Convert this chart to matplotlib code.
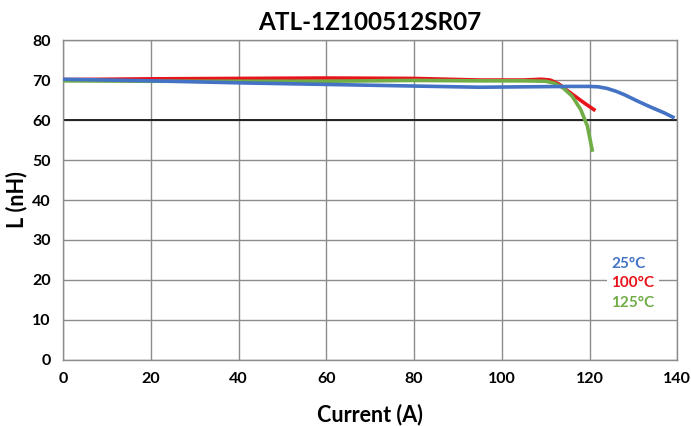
import matplotlib.pyplot as plt

# 25°C curve
x_25 = [0, 20, 40, 60, 80, 95, 105, 115, 120, 122, 124, 126, 128, 131, 134, 137, 139]
l_25 = [70.2, 69.8, 69.3, 68.9, 68.5, 68.2, 68.3, 68.4, 68.4, 68.3, 67.9, 67.2, 66.3, 64.7, 63.2, 61.8, 60.7]

# 100°C curve
x_100 = [0, 20, 40, 60, 80, 95, 105, 109, 111, 113, 115, 117, 119, 121]
l_100 = [70.1, 70.3, 70.4, 70.5, 70.4, 70.0, 70.0, 70.2, 70.0, 69.0, 67.3, 65.7, 64.1, 62.6]

# 125°C curve
x_125 = [0, 20, 40, 60, 80, 95, 105, 110, 112, 114, 116, 118, 119.5, 120.6]
l_125 = [69.8, 69.7, 69.7, 69.7, 69.9, 69.8, 69.8, 69.7, 69.2, 68.0, 66.0, 62.6, 58.5, 52.5]

xticks = list(range(0, 141, 20))
yticks = list(range(0, 81, 10))

plt.rcParams['font.family'] = ['Lato', 'DejaVu Sans']

fig = plt.figure(figsize=(6.91, 4.26), dpi=100)
ax = fig.add_axes([0.0912, 0.155, 0.889, 0.751])

ax.plot(x_100, l_100, color='#e8141c', lw=2.6, label='100°C', zorder=3)
ax.plot(x_125, l_125, color='#70ad47', lw=2.6, label='125°C', zorder=4)
ax.plot(x_25, l_25, color='#4472c4', lw=2.6, label='25°C', zorder=5)

ax.set_xlim(0, 140)
ax.set_ylim(0, 80)
ax.set_xticks(xticks)
ax.set_yticks(yticks)
ax.grid(True, color='#8c8c8c', lw=1.0)
ax.axhline(60, color='#222222', lw=1.4, zorder=2)
for s in ax.spines.values():
    s.set_color('#8c8c8c')
    s.set_linewidth(1.0)
ax.tick_params(length=0, pad=9, labelsize=11.5)
for lbl in ax.get_xticklabels() + ax.get_yticklabels():
    lbl.set_fontweight('bold')

ax.set_title('ATL-1Z100512SR07', fontsize=17.5, fontweight='bold', pad=7)
ax.set_xlabel('Current (A)', fontsize=15.5, fontweight='bold')
ax.set_ylabel('L (nH)', fontsize=15.5, fontweight='bold')
ax.xaxis.set_label_coords(0.5, -0.135)
ax.yaxis.set_label_coords(-0.058, 0.5)

handles, labels = ax.get_legend_handles_labels()
order = [2, 0, 1]
leg = ax.legend([handles[i] for i in order], [labels[i] for i in order],
                loc='center', bbox_to_anchor=(0.928, 0.24), handlelength=0,
                handletextpad=0, labelcolor='linecolor', frameon=True,
                fancybox=False, edgecolor='none', framealpha=1,
                labelspacing=0.35, borderpad=0.3, borderaxespad=0,
                prop={'weight': 'bold', 'size': 11})
for h in leg.legend_handles:
    h.set_visible(False)

fig.savefig('out.png', dpi=100)
